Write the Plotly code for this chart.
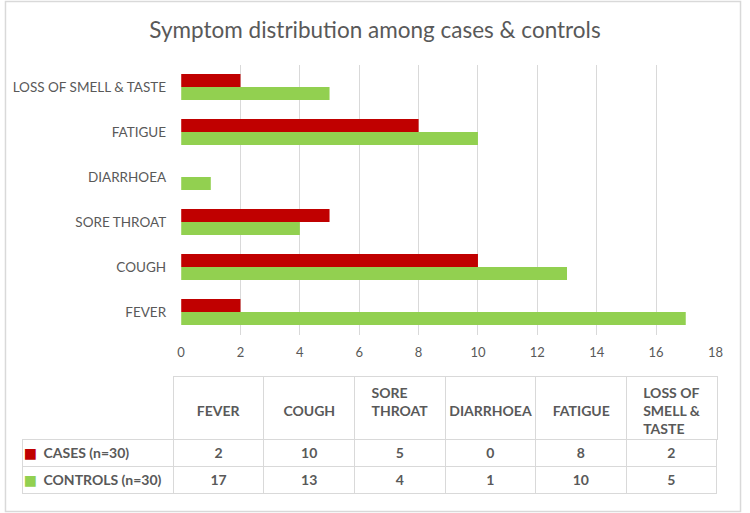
import plotly.graph_objects as go

categories = ["FEVER", "COUGH", "SORE THROAT", "DIARRHOEA", "FATIGUE", "LOSS OF SMELL & TASTE"]
header_labels = ["\u00a0<br>FEVER", "\u00a0<br>COUGH", "SORE<br>THROAT", "\u00a0<br>DIARRHOEA",
                 "\u00a0<br>FATIGUE", "LOSS OF<br>SMELL &<br>TASTE"]
cases = [2, 10, 5, 0, 8, 2]
controls = [17, 13, 4, 1, 10, 5]
series_names = ["CASES (n=30)", "CONTROLS (n=30)"]
x_ticks = [0, 2, 4, 6, 8, 10, 12, 14, 16, 18]

RED = "#C00000"
GREEN = "#92D050"
TXT = "#595959"
GRID = "#D9D9D9"
FONT = "Lato"
W, H = 750, 513
NB = "\u00a0"
CLEAR = "rgba(0,0,0,0)"

def px_x(p):
    return p / W

def px_y(p):
    return 1 - p / H

fig = go.Figure()
fig.add_trace(go.Bar(y=categories, x=controls, orientation="h", name=series_names[1],
                     marker=dict(color=GREEN, line=dict(width=0))))
fig.add_trace(go.Bar(y=categories, x=cases, orientation="h", name=series_names[0],
                     marker=dict(color=RED, line=dict(width=0))))

BOLD = dict(family=FONT, size=14, color=TXT, weight="bold")

# header row of the data table
HEAD_TOP, HEAD_H, ROW_H = 376, 63, 27
fig.add_trace(go.Table(
    domain=dict(x=[px_x(172), px_x(725)], y=[px_y(HEAD_TOP + HEAD_H + 1), px_y(HEAD_TOP)]),
    columnwidth=[1] * 6,
    header=dict(values=header_labels,
                height=HEAD_H, align="center",
                line=dict(color=GRID, width=1), fill=dict(color="white"),
                font=BOLD),
    cells=dict(values=[[] for _ in header_labels]),
))

# one row per series
rows = [(series_names[0], cases, RED), (series_names[1], controls, GREEN)]
for i, (name, vals, color) in enumerate(rows):
    top = HEAD_TOP + HEAD_H + i * ROW_H
    dom_y = [px_y(top + ROW_H + 1), px_y(top)]
    # bordered row with the values
    fig.add_trace(go.Table(
        domain=dict(x=[px_x(19), px_x(725)], y=dom_y),
        columnwidth=[153] + [92] * 6,
        header=dict(values=[""] + [str(v) for v in vals],
                    height=ROW_H, align="center",
                    line=dict(color=GRID, width=1), fill=dict(color="white"),
                    font=BOLD),
        cells=dict(values=[[] for _ in range(7)]),
    ))
    # legend key square for the series
    fig.add_trace(go.Table(
        domain=dict(x=[px_x(12), px_x(36)], y=dom_y),
        header=dict(values=["■"], height=ROW_H, align="left",
                    line=dict(color=CLEAR, width=0), fill=dict(color=CLEAR),
                    font=dict(family="DejaVu Sans", size=14, color=color)),
        cells=dict(values=[[]]),
    ))
    # series label
    fig.add_trace(go.Table(
        domain=dict(x=[px_x(32), px_x(172)], y=dom_y),
        header=dict(values=[name.replace(" ", NB)], height=ROW_H, align="left",
                    line=dict(color=CLEAR, width=0), fill=dict(color=CLEAR),
                    font=BOLD),
        cells=dict(values=[[]]),
    ))

fig.update_layout(
    width=W, height=H,
    margin=dict(l=0, r=0, t=0, b=0),
    paper_bgcolor="white", plot_bgcolor="white",
    barmode="group", bargap=0.42, bargroupgap=0,
    showlegend=False,
    font=dict(family=FONT, color=TXT),
    title=dict(text="Symptom distribution among cases & controls",
               x=0.5, xanchor="center", y=px_y(30), yanchor="middle",
               font=dict(family=FONT, size=22.5, color=TXT)),
    xaxis=dict(domain=[px_x(180), px_x(723)], range=[0, 18], tickvals=x_ticks,
               showgrid=True, gridcolor=GRID, gridwidth=1, zeroline=False,
               showline=False, ticks="", tickfont=dict(size=13, color=TXT),
               ticklabelstandoff=8, fixedrange=True),
    yaxis=dict(domain=[px_y(334.5), px_y(64.5)], showgrid=False, zeroline=False,
               showline=False, ticks="", tickfont=dict(size=13.5, color=TXT),
               ticklabelstandoff=14, fixedrange=True),
    shapes=[dict(type="rect", xref="paper", yref="paper", x0=0.002, x1=0.998, y0=0.003, y1=0.997,
                 line=dict(color=GRID, width=1.5), fillcolor="rgba(0,0,0,0)", layer="below")],
)

fig.write_html("out.html", config={"displayModeBar": False},
               post_script="document.body.style.margin='0';")
